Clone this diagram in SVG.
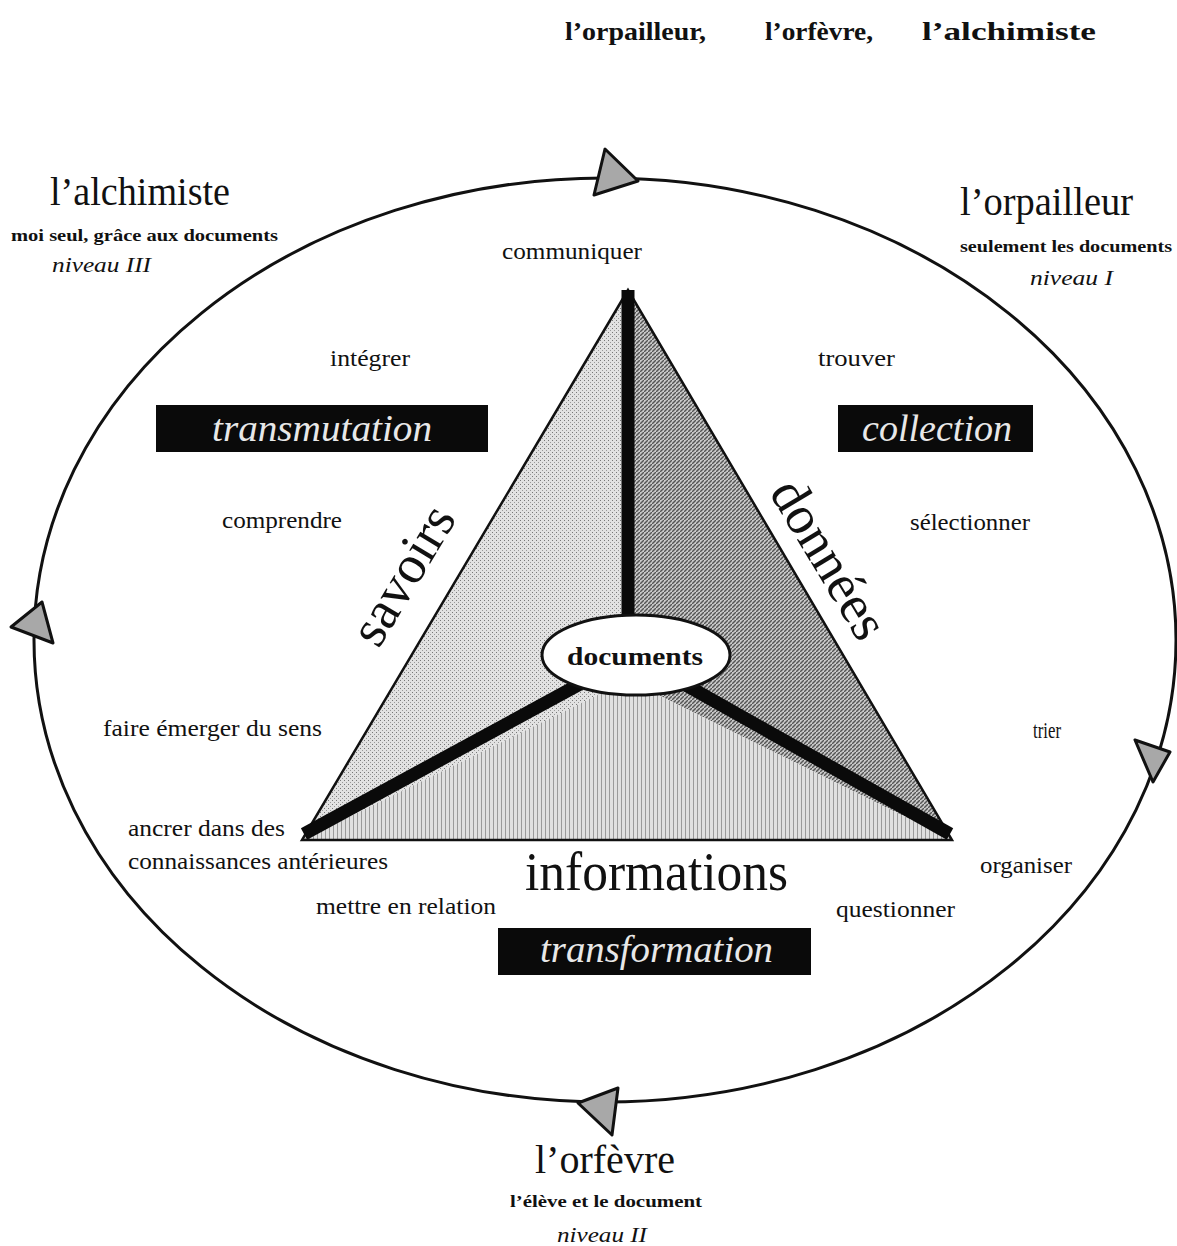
<svg xmlns="http://www.w3.org/2000/svg" width="1177" height="1246" viewBox="0 0 1177 1246">
<defs>
<style>
text{font-family:"Liberation Serif","Times New Roman",serif;fill:#111}
.t{font-size:39px}
.s{font-size:17px;font-weight:bold}
.n{font-size:20px;font-style:italic}
.l{font-size:23px}
.h{font-size:26px;font-weight:bold}
.bx{fill:#0a0a0a}
.bt{font-size:38px;font-style:italic;fill:#e8e8e8}
.big{font-size:54px}
.arr{fill:#a8a8a8;stroke:#111;stroke-width:3;stroke-linejoin:round}
.beam{stroke:#0a0a0a;stroke-width:13;stroke-linecap:butt;fill:none}
</style>
<pattern id="patL" width="4" height="4" patternUnits="userSpaceOnUse">
<rect width="4" height="4" fill="#e2e2e2"/>
<rect x="0" y="0" width="1" height="1" fill="#777"/>
<rect x="2" y="2" width="1" height="1" fill="#999"/>
</pattern>
<pattern id="patR" width="4" height="4" patternUnits="userSpaceOnUse">
<rect width="4" height="4" fill="#c8c8c8"/>
<path d="M0 4 L4 0" stroke="#555" stroke-width="1.4"/>
</pattern>
<pattern id="patB" width="4" height="4" patternUnits="userSpaceOnUse">
<rect width="4" height="4" fill="#e0e0e0"/>
<rect x="1" y="0" width="1" height="4" fill="#9a9a9a"/>
</pattern>
</defs>
<rect width="1177" height="1246" fill="#ffffff"/>

<g id="title">
<text class="h" x="565" y="40" textLength="141" lengthAdjust="spacingAndGlyphs">l’orpailleur,</text>
<text class="h" x="765" y="40" textLength="108" lengthAdjust="spacingAndGlyphs">l’orfèvre,</text>
<text class="h" x="922" y="40" textLength="174" lengthAdjust="spacingAndGlyphs">l’alchimiste</text>
</g>

<g id="cycle">
<ellipse cx="605" cy="640" rx="571" ry="462" fill="none" stroke="#111" stroke-width="3"/>
</g>

<g id="connectors">
<polygon class="arr" points="605,149 594,195 638,181"/>
<polygon class="arr" points="42,602 11,627 53,643"/>
<polygon class="arr" points="1135,740 1170,752 1153,782"/>
<polygon class="arr" points="618,1088 578,1103 612,1135"/>
</g>

<g id="triangle">
<polygon points="628,290 302,840 628,680" fill="url(#patL)"/>
<polygon points="628,290 952,840 628,680" fill="url(#patR)"/>
<polygon points="302,840 952,840 628,680" fill="url(#patB)"/>
<polygon points="628,290 302,840 952,840" fill="none" stroke="#111" stroke-width="2.5" stroke-linejoin="miter"/>
<line class="beam" x1="628" y1="290" x2="628" y2="620"/>
<line class="beam" x1="304" y1="834" x2="580" y2="684"/>
<line class="beam" x1="950" y1="834" x2="684" y2="684"/>
</g>

<g id="documents">
<ellipse cx="636" cy="655" rx="94" ry="40" fill="#fff" stroke="#111" stroke-width="3"/>
<text x="567" y="665" style="font-size:25px;font-weight:bold" textLength="136" lengthAdjust="spacingAndGlyphs">documents</text>
</g>

<g id="alchimiste">
<text class="t" x="50" y="205" textLength="180" lengthAdjust="spacingAndGlyphs">l’alchimiste</text>
<text class="s" x="11" y="241" textLength="267" lengthAdjust="spacingAndGlyphs">moi seul, grâce aux documents</text>
<text class="n" x="52" y="272" textLength="99" lengthAdjust="spacingAndGlyphs">niveau III</text>
</g>

<g id="orpailleur">
<text class="t" x="960" y="215" textLength="173" lengthAdjust="spacingAndGlyphs">l’orpailleur</text>
<text class="s" x="960" y="252" textLength="212" lengthAdjust="spacingAndGlyphs">seulement les documents</text>
<text class="n" x="1030" y="285" textLength="83" lengthAdjust="spacingAndGlyphs">niveau I</text>
</g>

<g id="orfevre">
<text class="t" x="535" y="1173" textLength="140" lengthAdjust="spacingAndGlyphs">l’orfèvre</text>
<text class="s" x="510" y="1207" textLength="192" lengthAdjust="spacingAndGlyphs">l’élève et le document</text>
<text class="n" x="557" y="1242" textLength="90" lengthAdjust="spacingAndGlyphs">niveau II</text>
</g>

<g id="verbs">
<text class="l" x="502" y="259" textLength="140" lengthAdjust="spacingAndGlyphs">communiquer</text>
<text class="l" x="330" y="366" textLength="80" lengthAdjust="spacingAndGlyphs">intégrer</text>
<text class="l" x="818" y="366" textLength="77" lengthAdjust="spacingAndGlyphs">trouver</text>
<text class="l" x="222" y="528" textLength="120" lengthAdjust="spacingAndGlyphs">comprendre</text>
<text class="l" x="910" y="530" textLength="120" lengthAdjust="spacingAndGlyphs">sélectionner</text>
<text class="l" x="103" y="736" textLength="219" lengthAdjust="spacingAndGlyphs">faire émerger du sens</text>
<text class="l" x="1033" y="738" textLength="28" lengthAdjust="spacingAndGlyphs">trier</text>
<text class="l" x="128" y="836" textLength="157" lengthAdjust="spacingAndGlyphs">ancrer dans des</text>
<text class="l" x="128" y="869" textLength="260" lengthAdjust="spacingAndGlyphs">connaissances antérieures</text>
<text class="l" x="980" y="873" textLength="92" lengthAdjust="spacingAndGlyphs">organiser</text>
<text class="l" x="316" y="914" textLength="180" lengthAdjust="spacingAndGlyphs">mettre en relation</text>
<text class="l" x="836" y="917" textLength="119" lengthAdjust="spacingAndGlyphs">questionner</text>
</g>

<g id="transmutation">
<rect class="bx" x="156" y="405" width="332" height="47"/>
<text class="bt" x="212" y="441" textLength="220" lengthAdjust="spacingAndGlyphs">transmutation</text>
</g>
<g id="collection">
<rect class="bx" x="838" y="405" width="195" height="47"/>
<text class="bt" x="862" y="441" textLength="150" lengthAdjust="spacingAndGlyphs">collection</text>
</g>
<g id="transformation">
<rect class="bx" x="498" y="928" width="313" height="47"/>
<text class="bt" x="540" y="962" textLength="233" lengthAdjust="spacingAndGlyphs">transformation</text>
</g>

<g id="labels">
<text class="big" x="0" y="0" text-anchor="middle" transform="translate(418,584) rotate(-59)">savoirs</text>
<text class="big" x="0" y="0" text-anchor="middle" transform="translate(814,568) rotate(59)">données</text>
<text class="big" x="525" y="890" textLength="263" lengthAdjust="spacingAndGlyphs">informations</text>
</g>
</svg>
